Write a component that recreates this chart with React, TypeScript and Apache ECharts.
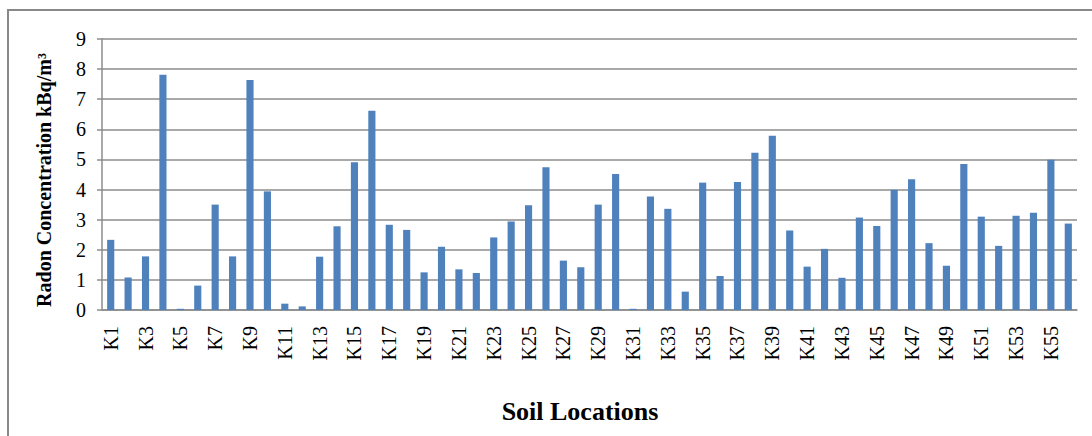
import React, { useEffect, useRef } from "react";
import * as echarts from "echarts";

const categories: string[] = Array.from({ length: 56 }, (_, i) => `K${i + 1}`);
const radonValues: number[] = [
  2.33, 1.08, 1.78, 7.81, 0.04, 0.81, 3.5, 1.78, 7.64, 3.94,
  0.21, 0.12, 1.77, 2.78, 4.91, 6.62, 2.83, 2.66, 1.25, 2.1,
  1.35, 1.23, 2.41, 2.94, 3.48, 4.74, 1.64, 1.42, 3.5, 4.52,
  0.04, 3.77, 3.36, 0.61, 4.23, 1.13, 4.25, 5.22, 5.79, 2.64,
  1.44, 2.03, 1.07, 3.07, 2.79, 3.99, 4.34, 2.22, 1.47, 4.85,
  3.1, 2.13, 3.13, 3.23, 4.99, 2.87,
];
const yTitle = "Radon Concentration kBq/m³";
const xTitle = "Soil Locations";

const FONT = "Liberation Serif";
const GRID_COLOR = "#8c8c8c";

export default function App() {
  const ref = useRef<HTMLDivElement>(null);
  useEffect(() => {
    if (!ref.current) return;
    const chart = echarts.init(ref.current, undefined, { renderer: "svg" });
    chart.setOption({
      animation: false,
      backgroundColor: "#fff",
      textStyle: { fontFamily: FONT },
      grid: { left: 102, right: 15, top: 39, bottom: 126 },
      xAxis: {
        type: "category",
        data: categories,
        axisTick: { show: false },
        axisLine: { lineStyle: { color: GRID_COLOR, width: 1.5 } },
        axisLabel: {
          interval: 1,
          rotate: 90,
          margin: 16,
          fontSize: 20,
          fontFamily: FONT,
          color: "#000",
        },
      },
      yAxis: {
        type: "value",
        min: 0,
        max: 9,
        interval: 1,
        axisLine: { show: true, lineStyle: { color: GRID_COLOR, width: 1.5 } },
        axisTick: { show: true, length: 5, lineStyle: { color: GRID_COLOR, width: 1.5 } },
        splitLine: { lineStyle: { color: GRID_COLOR, width: 1.5 } },
        axisLabel: { margin: 16, fontSize: 20, fontFamily: FONT, color: "#000" },
      },
      series: [
        {
          type: "bar",
          data: radonValues,
          barWidth: "41%",
          itemStyle: { color: "#4f81bd" },
        },
      ],
      graphic: [
        {
          type: "rect",
          shape: { x: 8, y: 10, width: 1300, height: 1000 },
          style: { fill: "none", stroke: "#888", lineWidth: 2 },
          silent: true,
        },
        {
          type: "text",
          x: 44,
          y: 180,
          rotation: Math.PI / 2,
          style: {
            text: yTitle,
            fontSize: 20,
            fontWeight: "bold",
            fontFamily: FONT,
            fill: "#000",
            align: "center",
            verticalAlign: "middle",
          },
        },
        {
          type: "text",
          x: 580,
          y: 411,
          style: {
            text: xTitle,
            fontSize: 26,
            fontWeight: "bold",
            fontFamily: FONT,
            fill: "#000",
            align: "center",
            verticalAlign: "middle",
          },
        },
      ],
    });
    return () => chart.dispose();
  }, []);
  return (
    <div
      ref={ref}
      style={{ position: "fixed", left: 0, top: 0, width: 1092, height: 436 }}
    />
  );
}
